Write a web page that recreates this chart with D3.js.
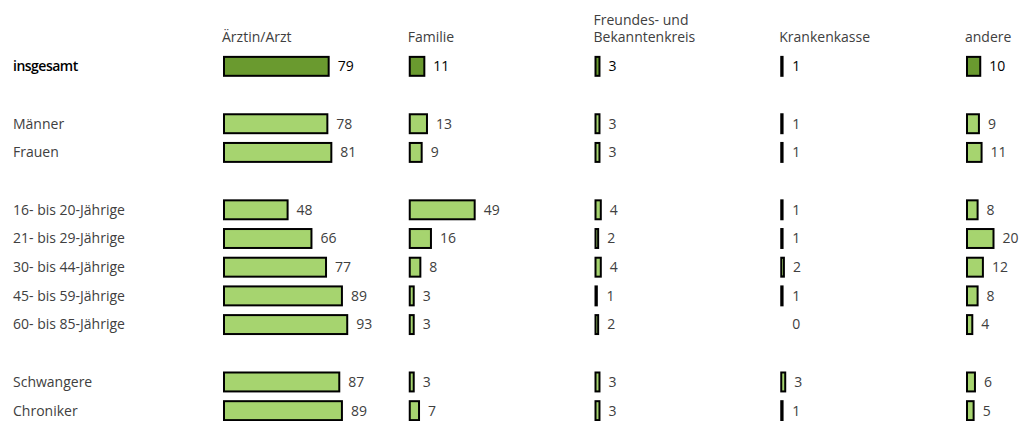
<!DOCTYPE html>
<html>
<head>
<meta charset="utf-8">
<script src="https://cdn.jsdelivr.net/npm/d3@7"></script>
<style>
  body { margin: 0; background: #fff; }
  text { font-family: "Open Sans", sans-serif; font-size: 14px; fill: #404040; }
</style>
</head>
<body>
<svg id="chart" width="1019" height="421"></svg>
<script>
// categories (null = empty spacer row)
var groups = ['insgesamt', null, 'Männer', 'Frauen', null,
  '16- bis 20-Jährige', '21- bis 29-Jährige', '30- bis 44-Jährige', '45- bis 59-Jährige', '60- bis 85-Jährige',
  null, 'Schwangere', 'Chroniker']

var sources = [['Ärztin/Arzt'], ['Familie'], ['Freundes- und', 'Bekanntenkreis'], ['Krankenkasse'], ['andere']]

// values in percent per source, same order as groups
var arzt      = [79, null, 78, 81, null, 48, 66, 77, 89, 93, null, 87, 89]
var familie   = [11, null, 13, 9, null, 49, 16, 8, 3, 3, null, 3, 7]
var freunde   = [3, null, 3, 3, null, 4, 2, 4, 1, 2, null, 3, 3]
var kasse     = [1, null, 1, 1, null, 1, 1, 2, 1, 0, null, 3, 1]
var andere    = [10, null, 9, 11, null, 8, 20, 12, 8, 4, null, 6, 5]
var series = [arzt, familie, freunde, kasse, andere]

var darkGreen = '#6a9a2f'
var lightGreen = '#a6d46f'

var svg = d3.select('#chart')

var y = d3.scaleBand()
  .domain(d3.range(groups.length))
  .range([52, 425])
  .paddingInner(0.34)
  .paddingOuter(0.17)

var colX = d3.scalePoint()
  .domain(d3.range(sources.length))
  .range([224, 967])

var w = d3.scaleLinear().domain([0, 100]).range([0, 132.5])

// row labels
svg.selectAll('.rowlab')
  .data(groups.map(function(g, i) { return {g: g, i: i} }).filter(function(d) { return d.g }))
  .enter().append('text')
  .attr('x', 13)
  .attr('y', function(d) { return y(d.i) + y.bandwidth() / 2 })
  .attr('dy', '0.35em')
  .style('font-weight', function(d) { return d.i === 0 ? 600 : null })
  .style('letter-spacing', function(d) { return d.i === 0 ? '-0.5px' : null })
  .style('fill', function(d) { return d.i === 0 ? '#000' : null })
  .text(function(d) { return d.g })

// column headers
sources.forEach(function(lines, c) {
  var t = svg.append('text').attr('x', colX(c) - 2).attr('y', 42)
  lines.forEach(function(l, k) {
    t.append('tspan')
      .attr('x', colX(c) - 2)
      .attr('dy', k === 0 ? -(lines.length - 1) * 17 : 17)
      .text(l)
  })
})

// bars and value labels
series.forEach(function(vals, c) {
  var g = svg.append('g')
  var data = vals.map(function(v, i) { return {v: v, i: i} }).filter(function(d) { return d.v !== null })

  g.selectAll('rect')
    .data(data.filter(function(d) { return d.v > 0 }))
    .enter().append('rect')
    .attr('x', colX(c))
    .attr('y', function(d) { return y(d.i) })
    .attr('width', function(d) { return Math.max(w(d.v), 1) })
    .attr('height', y.bandwidth())
    .attr('fill', function(d) { return d.i === 0 ? darkGreen : lightGreen })
    .attr('stroke', '#000')
    .attr('stroke-width', 2)

  g.selectAll('text')
    .data(data)
    .enter().append('text')
    .attr('x', function(d) { return colX(c) + Math.max(w(d.v), 2) + 9 })
    .attr('y', function(d) { return y(d.i) + y.bandwidth() / 2 })
    .attr('dy', '0.35em')
    .style('fill', function(d) { return d.i === 0 ? '#000' : null })
    .text(function(d) { return d.v })
})
</script>
</body>
</html>
